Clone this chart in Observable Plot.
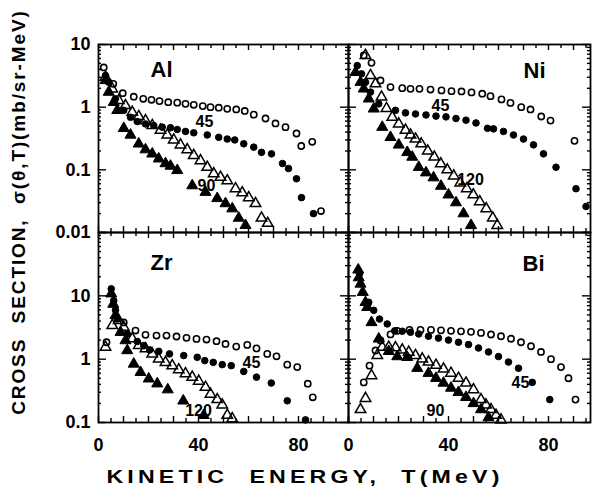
<!DOCTYPE html>
<html><head><meta charset="utf-8">
<script src="https://cdn.jsdelivr.net/npm/d3@7"></script>
<script src="https://cdn.jsdelivr.net/npm/@observablehq/plot@0.6"></script>
<style>
html,body{margin:0;padding:0;background:#fff;}
#wrap{position:relative;width:595px;height:497px;overflow:hidden;background:#fff;font-family:"Liberation Sans",Arial,sans-serif;color:#000;}
.pane{position:absolute;}
.ytitle{position:absolute;left:19px;top:212px;transform:translate(-50%,-50%) rotate(-90deg);white-space:nowrap;font-weight:bold;font-size:19px;letter-spacing:1.9px;}
.xtitle{position:absolute;left:305px;top:477px;transform:translate(-50%,-50%) scaleX(1.22);white-space:nowrap;font-weight:bold;font-size:19px;letter-spacing:3.4px;}
</style></head><body>
<div id="wrap">
  <div class="ytitle">CROSS&nbsp; SECTION,&nbsp; σ(θ,T)(mb/sr-MeV)</div>
  <div class="xtitle">KINETIC&nbsp; ENERGY,&nbsp; T(MeV)</div>
</div>
<script>
// ---------- data: [kinetic energy T (MeV), cross section (mb/sr-MeV)] ----------
const alOpenCircles = [[2.1,4.3],[5.9,2.36],[9.7,1.67],[14.1,1.47],[17.9,1.36],[21.2,1.31],[24.4,1.25],[27.9,1.2],[31.5,1.18],[34.8,1.13],[38.1,1.09],[41.7,1.04],[44.8,1.0],[48.1,0.98],[51.5,0.94],[55.1,0.92],[58.5,0.87],[62.1,0.76],[66.8,0.66],[70.8,0.55],[74.8,0.48],[79.2,0.38],[81.1,0.24],[85.5,0.28],[89,0.022]];
const alFilledCircles = [[2.8,3.2],[4.1,2.5],[6.8,1.36],[10.1,0.89],[12.8,0.69],[15.5,0.59],[18.8,0.54],[22.1,0.51],[25.5,0.48],[28.8,0.47],[31.5,0.44],[34.8,0.41],[38.1,0.39],[43.5,0.36],[48.1,0.33],[51.5,0.31],[54.5,0.30],[58.1,0.26],[62.1,0.23],[65.2,0.19],[69.2,0.18],[73.6,0.126],[76,0.105],[79.2,0.072],[81.2,0.036],[86,0.020]];
const alOpenTriangles = [[2.8,3.0],[5.5,1.96],[8.1,1.28],[10.8,1.06],[13.5,0.83],[16.1,0.71],[18.8,0.61],[21.5,0.51],[24.8,0.43],[27.5,0.36],[30.1,0.30],[32.8,0.25],[35.5,0.21],[38.1,0.17],[40.8,0.14],[43.5,0.11],[46.1,0.087],[48.8,0.076],[51.5,0.067],[54.8,0.050],[57.5,0.043],[60.1,0.036],[62.8,0.029],[65.2,0.017],[67.7,0.014]];
const alFilledTriangles = [[2.8,2.67],[4.1,1.74],[6.1,1.2],[7.5,0.89],[10.1,0.46],[12.8,0.36],[16.1,0.26],[18.8,0.21],[21.5,0.18],[24.1,0.15],[26.8,0.126],[28.8,0.115],[31.5,0.098],[37.5,0.056],[42.8,0.044],[47.5,0.035],[50.8,0.029],[53.5,0.024],[56.1,0.017],[58.8,0.013]];

const niOpenCircles = [[6.1,6.7],[9.2,5.1],[12.8,2.67],[16.8,2.09],[21.5,2.01],[24.8,1.96],[28.4,1.96],[32.8,1.91],[37.2,1.85],[41.2,1.8],[45.2,1.78],[49.2,1.72],[53.5,1.64],[56.8,1.5],[61.2,1.33],[64.8,1.17],[69.1,1.0],[72.8,0.92],[77.1,0.71],[80.8,0.61],[90.4,0.29]];
const niFilledCircles = [[3.5,4.6],[5.2,3.4],[6.8,2.5],[8.8,1.74],[12.1,1.13],[18.8,0.89],[22.8,0.81],[26.8,0.78],[31,0.75],[35,0.72],[39,0.7],[43,0.66],[47,0.62],[51,0.56],[55.6,0.46],[58,0.45],[62,0.41],[66,0.36],[70,0.31],[74,0.25],[78,0.18],[83,0.11],[91,0.05],[95,0.026]];
const niOpenTriangles = [[6.8,6.7],[8.8,3.2],[10.8,2.36],[13.2,1.45],[15.2,0.95],[17.5,0.69],[20.1,0.54],[22.8,0.43],[24.8,0.36],[26.8,0.31],[29.1,0.26],[31.7,0.2],[34.3,0.16],[36.9,0.125],[39.5,0.1],[42.1,0.08],[44.7,0.062],[47.3,0.05],[49.9,0.04],[52.5,0.031],[55.1,0.024],[57.7,0.017],[59.5,0.013]];
const niFilledTriangles = [[2.8,3.6],[4.8,2.5],[6.1,1.96],[8.1,1.36],[10.1,0.94],[13.5,0.48],[16.8,0.33],[20.1,0.25],[23.5,0.19],[25.5,0.16],[28.1,0.11],[31,0.09],[34,0.075],[37,0.055],[40,0.04],[43,0.03],[46,0.02],[49,0.013]];

const zrOpenCircles = [[3.2,1.85],[10.1,3.8],[14.8,2.83],[18.8,2.42],[23.2,2.36],[27.2,2.36],[31.2,2.28],[35.2,2.17],[39.2,2.09],[43.2,2.04],[47.2,1.92],[50.8,1.74],[55.1,1.58],[59.5,1.68],[63.2,1.48],[67.5,1.21],[71.2,1.11],[75.5,0.82],[79.5,0.75],[83.7,0.41],[85.7,0.25]];
const zrFilledCircles = [[5.1,12.9],[6.1,8.4],[6.8,5.9],[7.5,4.3],[11.5,2.5],[15.5,1.9],[18.1,1.64],[20.5,1.4],[24.1,1.33],[28.4,1.21],[34.1,1.14],[39.5,1.07],[42.5,0.95],[45.9,0.89],[49.5,0.82],[53.1,0.79],[58.1,0.64],[63.2,0.52],[69.1,0.42],[75.5,0.22],[82.8,0.11]];
const zrOpenTriangles = [[2.8,1.55],[5.5,3.4],[8.1,4.1],[10.1,3.2],[13.5,2.1],[16.1,1.64],[18.8,1.46],[21.5,1.21],[24.1,1.01],[26.8,0.89],[29.5,0.79],[32.1,0.68],[34.8,0.59],[37.5,0.52],[40.1,0.45],[42.8,0.36],[44.8,0.28],[47.5,0.23],[49.5,0.19],[51.5,0.13],[53.5,0.115]];
const zrFilledTriangles = [[5.1,10.8],[5.9,7.4],[6.8,4.9],[8.8,2.66],[10.8,1.97],[11.5,1.37],[14.1,0.84],[16.8,0.62],[20.1,0.49],[23.5,0.41],[27.7,0.33],[33.9,0.22],[42.1,0.13]];

const biOpenCircles = [[6.1,0.43],[8.4,0.79],[10.8,1.37],[12.8,1.97],[16.8,2.46],[19.5,2.8],[24.4,2.9],[28.8,2.9],[33,2.9],[37,2.85],[41,2.8],[45,2.75],[49,2.7],[53,2.6],[57,2.45],[61,2.3],[65,2.1],[69,1.85],[73,1.6],[77,1.3],[81,1.0],[85,0.75],[88,0.5],[90.8,0.23]];
const biFilledCircles = [[4.4,22.3],[8.1,7.9],[10.1,5.9],[12.4,4.3],[15.5,3.6],[18.5,2.8],[21.5,2.76],[24.8,2.66],[28.1,2.5],[32,2.3],[36,2.15],[40,2.0],[44,1.85],[48,1.7],[52,1.5],[56,1.3],[60,1.1],[64,0.9],[68,0.72],[73.5,0.43],[80.5,0.23]];
const biOpenTriangles = [[4.8,0.16],[6.8,0.24],[9.2,0.55],[11.5,1.14],[13.5,1.55],[16.1,1.55],[18.8,1.52],[21.5,1.40],[24.1,1.29],[26.8,1.14],[29.5,1.01],[32,0.9],[35,0.8],[38,0.7],[41,0.6],[44,0.5],[47,0.42],[50,0.33],[53,0.23],[55,0.19],[57,0.16],[59,0.13],[61,0.11]];
const biFilledTriangles = [[3.9,25.7],[4.1,19.4],[4.8,15.4],[5.7,11.4],[6.8,7.9],[7.5,6.6],[9.2,3.8],[12.1,2.09],[16.1,1.33],[19.5,1.1],[23.5,1.07],[27.5,0.72],[32,0.6],[35,0.5],[38,0.42],[41,0.35],[44,0.3],[47,0.25],[50,0.2],[53,0.16],[56,0.12]];

// ---------- labels ----------
const elementNames = ["Al", "Ni", "Zr", "Bi"];
const elementLabelT = [25.2, 74.4, 25.2, 74];
const elementLabelV = [3.9, 3.85, 33.6, 32.4];
const angleLabelText = [["45","90"],["45","120"],["45","120"],["45","90"]];
const angleLabelT = [[42.4,43.2],[36.8,48.8],[61.2,40.0],[68.8,34.8]];
const angleLabelV = [[0.59,0.056],[1.06,0.068],[0.88,0.155],[0.43,0.155]];

const xTickValues = [0, 40, 80];
const xTickLabels = ["0", "40", "80"];
const topYTickValues = [10, 1, 0.1, 0.01];
const topYTickLabels = ["10", "1", "0.1", "0.01"];
const botYTickValues = [10, 1, 0.1];
const botYTickLabels = ["10", "1", "0.1"];

// ---------- layout ----------
const panels = [
  {name:0, fx:98,  fy:44,  fw:250, fh:188, xDomain:[0,100],  yDomain:[0.01,10], left:true,  bottom:false,
   series:[alOpenCircles, alFilledCircles, alOpenTriangles, alFilledTriangles]},
  {name:1, fx:348, fy:44,  fw:242, fh:188, xDomain:[0,96.8], yDomain:[0.01,10], left:false, bottom:false,
   series:[niOpenCircles, niFilledCircles, niOpenTriangles, niFilledTriangles]},
  {name:2, fx:98,  fy:232, fw:250, fh:190, xDomain:[0,100],  yDomain:[0.1,100], left:true,  bottom:true,
   series:[zrOpenCircles, zrFilledCircles, zrOpenTriangles, zrFilledTriangles]},
  {name:3, fx:348, fy:232, fw:242, fh:190, xDomain:[0,96.8], yDomain:[0.1,100], left:false, bottom:true,
   series:[biOpenCircles, biFilledCircles, biOpenTriangles, biFilledTriangles]}
];

const symbolStyles = [
  {symbol:"circle",   fill:"none",  stroke:"black", r:3.1, strokeWidth:1.6},
  {symbol:"circle",   fill:"black", stroke:"black", r:3.3, strokeWidth:1},
  {symbol:"triangle", fill:"none",  stroke:"black", r:3.9, strokeWidth:1.5},
  {symbol:"triangle", fill:"black", stroke:"black", r:4.1, strokeWidth:1}
];

const xMajor = d3.range(0, 101, 10), xMinor = d3.range(5, 100, 10);
const yMajorAll = [0.01, 0.1, 1, 10, 100];
const yMinorAll = [];
for (const d of [0.01, 0.1, 1, 10]) for (let k = 2; k <= 9; k++) yMinorAll.push(+(d * k).toPrecision(3));

const FONT = "Liberation Sans, Arial, sans-serif";
const wrap = document.getElementById("wrap");
const M = 45;

for (const p of panels) {
  const inX = v => v >= p.xDomain[0] && v <= p.xDomain[1] + 1e-9;
  const inY = v => v >= p.yDomain[0] - 1e-12 && v <= p.yDomain[1] + 1e-9;
  const xMaj = xMajor.filter(inX), xMin = xMinor.filter(inX);
  const yMaj = yMajorAll.filter(inY), yMin = yMinorAll.filter(inY);
  const tk = {stroke:"black", strokeWidth:1.4};
  const marks = [
    Plot.tickX(xMaj, {x:d=>d, insetTop:p.fh-6, ...tk}),
    Plot.tickX(xMin, {x:d=>d, insetTop:p.fh-4, ...tk}),
    Plot.tickX(xMaj, {x:d=>d, insetBottom:p.fh-6, ...tk}),
    Plot.tickX(xMin, {x:d=>d, insetBottom:p.fh-4, ...tk}),
    Plot.tickY(yMaj, {y:d=>d, insetRight:p.fw-8, ...tk}),
    Plot.tickY(yMin, {y:d=>d, insetRight:p.fw-3, ...tk}),
    Plot.tickY(yMaj, {y:d=>d, insetLeft:p.fw-8, ...tk}),
    Plot.tickY(yMin, {y:d=>d, insetLeft:p.fw-3, ...tk}),
    Plot.frame({stroke:"black", strokeWidth:1.8})
  ];
  p.series.forEach((s, i) => {
    marks.push(Plot.dot(s, {x:d=>d[0], y:d=>d[1], ...symbolStyles[i]}));
  });
  marks.push(Plot.text([elementNames[p.name]], {x:[elementLabelT[p.name]], y:[elementLabelV[p.name]], text:d=>d,
    fontSize:22, fontWeight:"bold", fontFamily:FONT, fill:"black"}));
  marks.push(Plot.text(angleLabelText[p.name], {x:angleLabelT[p.name], y:angleLabelV[p.name], text:d=>d,
    fontSize:16, fontWeight:"bold", fontFamily:FONT, fill:"black"}));
  if (p.left) {
    const vals = p.bottom ? botYTickValues : topYTickValues;
    const labs = p.bottom ? botYTickLabels : topYTickLabels;
    marks.push(Plot.text(vals, {y:d=>d, text:(d,i)=>labs[i], frameAnchor:"left", dx:-8, textAnchor:"end",
      fontSize:18, fontWeight:"bold", fontFamily:FONT, fill:"black"}));
  }
  if (p.bottom) {
    marks.push(Plot.text(xTickValues, {x:d=>d, text:(d,i)=>xTickLabels[i], frameAnchor:"bottom", dy:23,
      lineAnchor:"middle", fontSize:18, fontWeight:"bold", fontFamily:FONT, fill:"black"}));
  }
  const svg = Plot.plot({
    width: p.fw + 2*M, height: p.fh + 2*M, margin: M,
    x: {domain: p.xDomain, axis: null},
    y: {type: "log", domain: p.yDomain, axis: null},
    style: {background: "none", overflow: "visible", fontFamily: FONT},
    marks
  });
  const div = document.createElement("div");
  div.className = "pane";
  div.style.left = (p.fx - M) + "px";
  div.style.top = (p.fy - M) + "px";
  div.style.width = (p.fw + 2*M) + "px";
  div.style.height = (p.fh + 2*M) + "px";
  div.appendChild(svg);
  wrap.appendChild(div);
}
</script>
</body></html>
